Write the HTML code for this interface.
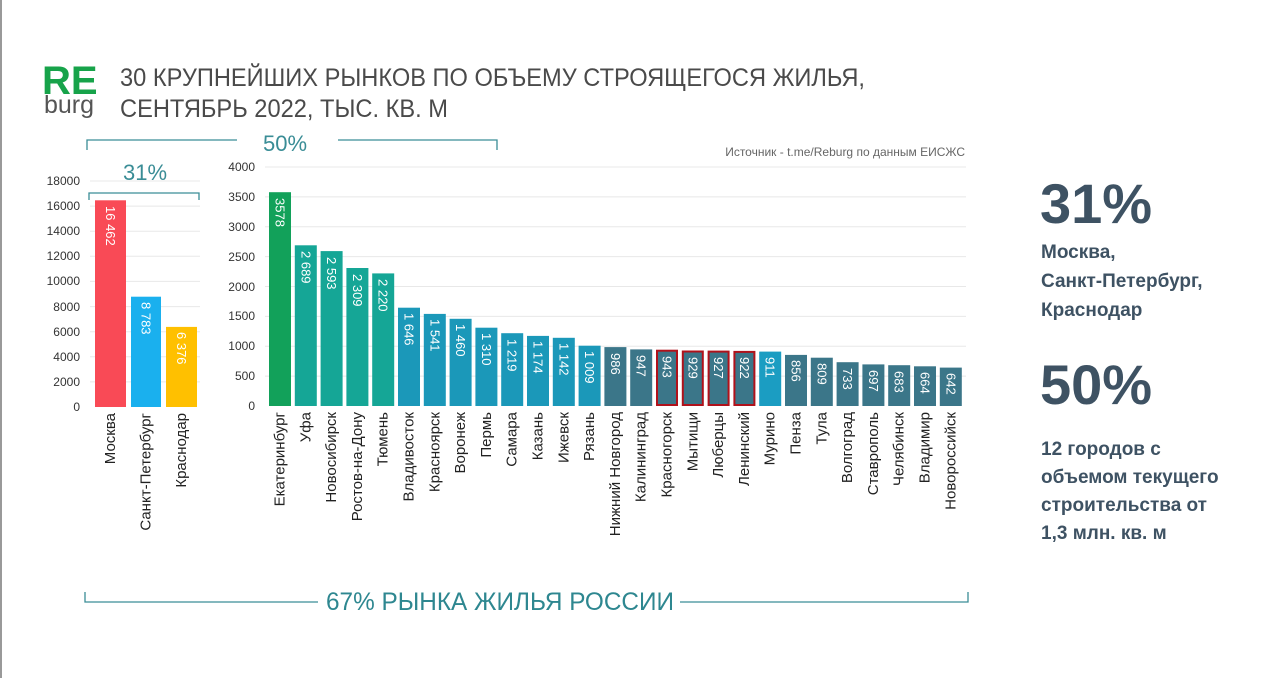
<!DOCTYPE html>
<html><head><meta charset="utf-8"><style>
html,body{margin:0;padding:0;background:#fff;}
svg{display:block;font-family:"Liberation Sans",sans-serif;}
.ax{font-size:12px;fill:#333;text-anchor:end;}
.v{font-size:13px;fill:#fff;dominant-baseline:central;}
.n{font-size:15px;fill:#222;text-anchor:end;dominant-baseline:central;}
.g{stroke:#e8e8e8;stroke-width:1;}
.br{fill:none;stroke:#3a8d96;stroke-width:1.3;}
.rt{font-weight:bold;fill:#3e5263;}
</style></head><body>
<svg width="1280" height="678" viewBox="0 0 1280 678">
<rect x="0" y="0" width="1280" height="678" fill="#fff"/>
<line x1="1" y1="0" x2="1" y2="678" stroke="#999" stroke-width="2"/>
<text x="42" y="94" font-size="40" font-weight="bold" fill="#17a34a">RE</text>
<text x="44" y="113" font-size="25" fill="#555">burg</text>
<text x="120" y="86" font-size="25" fill="#4a4a4a" textLength="745" lengthAdjust="spacingAndGlyphs">30 КРУПНЕЙШИХ РЫНКОВ ПО ОБЪЕМУ СТРОЯЩЕГОСЯ ЖИЛЬЯ,</text>
<text x="120" y="117" font-size="25" fill="#4a4a4a" textLength="328" lengthAdjust="spacingAndGlyphs">СЕНТЯБРЬ 2022, ТЫС. КВ. М</text>
<text x="965" y="156" font-size="12" fill="#666" text-anchor="end">Источник - t.me/Reburg по данным ЕИСЖС</text>
<path class="br" d="M87,150 V140 H237 M338,140 H497 V150"/>
<text x="285" y="151" font-size="22" fill="#3a8d96" text-anchor="middle">50%</text>
<path class="br" d="M89,200 V193 H199 V200"/>
<text x="145" y="180" font-size="22" fill="#3a8d96" text-anchor="middle">31%</text>
<path class="br" d="M85,592 V602 H318 M680,602 H968 V592"/>
<text x="500" y="610" font-size="25" fill="#2e8790" text-anchor="middle" textLength="348" lengthAdjust="spacingAndGlyphs">67% РЫНКА ЖИЛЬЯ РОССИИ</text>
<g class="g"><line x1="90" x2="200" y1="381.9" y2="381.9"/><line x1="90" x2="200" y1="356.8" y2="356.8"/><line x1="90" x2="200" y1="331.7" y2="331.7"/><line x1="90" x2="200" y1="306.6" y2="306.6"/><line x1="90" x2="200" y1="281.4" y2="281.4"/><line x1="90" x2="200" y1="256.3" y2="256.3"/><line x1="90" x2="200" y1="231.2" y2="231.2"/><line x1="90" x2="200" y1="206.1" y2="206.1"/><line x1="90" x2="200" y1="181" y2="181"/></g>
<g class="ax"><text x="80" y="411">0</text><text x="80" y="386">2000</text><text x="80" y="361">4000</text><text x="80" y="336">6000</text><text x="80" y="311">8000</text><text x="80" y="285">10000</text><text x="80" y="260">12000</text><text x="80" y="235">14000</text><text x="80" y="210">16000</text><text x="80" y="185">18000</text></g>
<rect x="95" y="200.3" width="31" height="206.7" fill="#f94a56"/>
<rect x="131" y="296.7" width="30" height="110.3" fill="#1ab0ee"/>
<rect x="166" y="326.9" width="31" height="80.1" fill="#ffc000"/>
<text class="v" transform="translate(110.5,206) rotate(90)">16 462</text>
<text class="v" transform="translate(146,302) rotate(90)">8 783</text>
<text class="v" transform="translate(181.5,332) rotate(90)">6 376</text>
<text class="n" transform="translate(110.5,413) rotate(-90)">Москва</text>
<text class="n" transform="translate(146,413) rotate(-90)">Санкт-Петербург</text>
<text class="n" transform="translate(181.5,413) rotate(-90)">Краснодар</text>
<g class="g"><line x1="265" x2="966" y1="376.1" y2="376.1"/><line x1="265" x2="966" y1="346.3" y2="346.3"/><line x1="265" x2="966" y1="316.4" y2="316.4"/><line x1="265" x2="966" y1="286.5" y2="286.5"/><line x1="265" x2="966" y1="256.6" y2="256.6"/><line x1="265" x2="966" y1="226.8" y2="226.8"/><line x1="265" x2="966" y1="196.9" y2="196.9"/><line x1="265" x2="966" y1="167" y2="167"/></g>
<g class="ax"><text x="255" y="410">0</text><text x="255" y="380">500</text><text x="255" y="350">1000</text><text x="255" y="320">1500</text><text x="255" y="291">2000</text><text x="255" y="261">2500</text><text x="255" y="231">3000</text><text x="255" y="201">3500</text><text x="255" y="171">4000</text></g>
<g>
<rect x="269" y="192.2" width="22" height="213.8" fill="#12a15a"/>
<rect x="294.8" y="245.3" width="22" height="160.7" fill="#15a696"/>
<rect x="320.6" y="251.1" width="22" height="154.9" fill="#15a696"/>
<rect x="346.4" y="268" width="22" height="138" fill="#15a696"/>
<rect x="372.2" y="273.4" width="22" height="132.6" fill="#15a696"/>
<rect x="398" y="307.7" width="22" height="98.3" fill="#1b98b9"/>
<rect x="423.8" y="313.9" width="22" height="92.1" fill="#1b98b9"/>
<rect x="449.6" y="318.8" width="22" height="87.2" fill="#1b98b9"/>
<rect x="475.4" y="327.7" width="22" height="78.3" fill="#1b98b9"/>
<rect x="501.2" y="333.2" width="22" height="72.8" fill="#1b98b9"/>
<rect x="527" y="335.9" width="22" height="70.1" fill="#1b98b9"/>
<rect x="552.8" y="337.8" width="22" height="68.2" fill="#1b98b9"/>
<rect x="578.6" y="345.7" width="22" height="60.3" fill="#1b98b9"/>
<rect x="604.4" y="347.1" width="22" height="58.9" fill="#3b7689"/>
<rect x="630.2" y="349.4" width="22" height="56.6" fill="#3b7689"/>
<rect x="657" y="350.7" width="20" height="54.3" fill="#3b7689" stroke="#b0121b" stroke-width="2"/>
<rect x="682.8" y="351.5" width="20" height="53.5" fill="#3b7689" stroke="#b0121b" stroke-width="2"/>
<rect x="708.6" y="351.6" width="20" height="53.4" fill="#3b7689" stroke="#b0121b" stroke-width="2"/>
<rect x="734.4" y="351.9" width="20" height="53.1" fill="#3b7689" stroke="#b0121b" stroke-width="2"/>
<rect x="759.2" y="351.6" width="22" height="54.4" fill="#1b9dc2"/>
<rect x="785" y="354.9" width="22" height="51.1" fill="#3b7689"/>
<rect x="810.8" y="357.7" width="22" height="48.3" fill="#3b7689"/>
<rect x="836.6" y="362.2" width="22" height="43.8" fill="#3b7689"/>
<rect x="862.4" y="364.4" width="22" height="41.6" fill="#3b7689"/>
<rect x="888.2" y="365.2" width="22" height="40.8" fill="#3b7689"/>
<rect x="914" y="366.3" width="22" height="39.7" fill="#3b7689"/>
<rect x="939.8" y="367.6" width="22" height="38.4" fill="#3b7689"/>
</g>
<g>
<text class="v" transform="translate(280,198) rotate(90)">3578</text>
<text class="v" transform="translate(305.8,251) rotate(90)">2 689</text>
<text class="v" transform="translate(331.6,257) rotate(90)">2 593</text>
<text class="v" transform="translate(357.4,274) rotate(90)">2 309</text>
<text class="v" transform="translate(383.2,279) rotate(90)">2 220</text>
<text class="v" transform="translate(409,313) rotate(90)">1 646</text>
<text class="v" transform="translate(434.8,319) rotate(90)">1 541</text>
<text class="v" transform="translate(460.6,324) rotate(90)">1 460</text>
<text class="v" transform="translate(486.4,333) rotate(90)">1 310</text>
<text class="v" transform="translate(512.2,339) rotate(90)">1 219</text>
<text class="v" transform="translate(538,341) rotate(90)">1 174</text>
<text class="v" transform="translate(563.8,343) rotate(90)">1 142</text>
<text class="v" transform="translate(589.6,351) rotate(90)">1 009</text>
<text class="v" transform="translate(615.4,353) rotate(90)">986</text>
<text class="v" transform="translate(641.2,355) rotate(90)">947</text>
<text class="v" transform="translate(667,356) rotate(90)">943</text>
<text class="v" transform="translate(692.8,357) rotate(90)">929</text>
<text class="v" transform="translate(718.6,357) rotate(90)">927</text>
<text class="v" transform="translate(744.4,357) rotate(90)">922</text>
<text class="v" transform="translate(770.2,357) rotate(90)">911</text>
<text class="v" transform="translate(796,360) rotate(90)">856</text>
<text class="v" transform="translate(821.8,363) rotate(90)">809</text>
<text class="v" transform="translate(847.6,368) rotate(90)">733</text>
<text class="v" transform="translate(873.4,370) rotate(90)">697</text>
<text class="v" transform="translate(899.2,371) rotate(90)">683</text>
<text class="v" transform="translate(925,372) rotate(90)">664</text>
<text class="v" transform="translate(950.8,373) rotate(90)">642</text>
</g>
<g>
<text class="n" transform="translate(280,412) rotate(-90)">Екатеринбург</text>
<text class="n" transform="translate(305.8,412) rotate(-90)">Уфа</text>
<text class="n" transform="translate(331.6,412) rotate(-90)">Новосибирск</text>
<text class="n" transform="translate(357.4,412) rotate(-90)">Ростов-на-Дону</text>
<text class="n" transform="translate(383.2,412) rotate(-90)">Тюмень</text>
<text class="n" transform="translate(409,412) rotate(-90)">Владивосток</text>
<text class="n" transform="translate(434.8,412) rotate(-90)">Красноярск</text>
<text class="n" transform="translate(460.6,412) rotate(-90)">Воронеж</text>
<text class="n" transform="translate(486.4,412) rotate(-90)">Пермь</text>
<text class="n" transform="translate(512.2,412) rotate(-90)">Самара</text>
<text class="n" transform="translate(538,412) rotate(-90)">Казань</text>
<text class="n" transform="translate(563.8,412) rotate(-90)">Ижевск</text>
<text class="n" transform="translate(589.6,412) rotate(-90)">Рязань</text>
<text class="n" transform="translate(615.4,412) rotate(-90)">Нижний Новгород</text>
<text class="n" transform="translate(641.2,412) rotate(-90)">Калининград</text>
<text class="n" transform="translate(667,412) rotate(-90)">Красногорск</text>
<text class="n" transform="translate(692.8,412) rotate(-90)">Мытищи</text>
<text class="n" transform="translate(718.6,412) rotate(-90)">Люберцы</text>
<text class="n" transform="translate(744.4,412) rotate(-90)">Ленинский</text>
<text class="n" transform="translate(770.2,412) rotate(-90)">Мурино</text>
<text class="n" transform="translate(796,412) rotate(-90)">Пенза</text>
<text class="n" transform="translate(821.8,412) rotate(-90)">Тула</text>
<text class="n" transform="translate(847.6,412) rotate(-90)">Волгоград</text>
<text class="n" transform="translate(873.4,412) rotate(-90)">Ставрополь</text>
<text class="n" transform="translate(899.2,412) rotate(-90)">Челябинск</text>
<text class="n" transform="translate(925,412) rotate(-90)">Владимир</text>
<text class="n" transform="translate(950.8,412) rotate(-90)">Новороссийск</text>
</g>
<text class="rt" x="1040" y="223" font-size="56">31%</text>
<text class="rt" x="1041" y="258" font-size="19">Москва,</text>
<text class="rt" x="1041" y="287" font-size="19">Санкт-Петербург,</text>
<text class="rt" x="1041" y="316" font-size="19">Краснодар</text>
<text class="rt" x="1040" y="404" font-size="56">50%</text>
<text class="rt" x="1041" y="455" font-size="19">12 городов с</text>
<text class="rt" x="1041" y="483" font-size="19">объемом текущего</text>
<text class="rt" x="1041" y="511" font-size="19">строительства от</text>
<text class="rt" x="1041" y="539" font-size="19">1,3 млн. кв. м</text>
</svg>
</body></html>
